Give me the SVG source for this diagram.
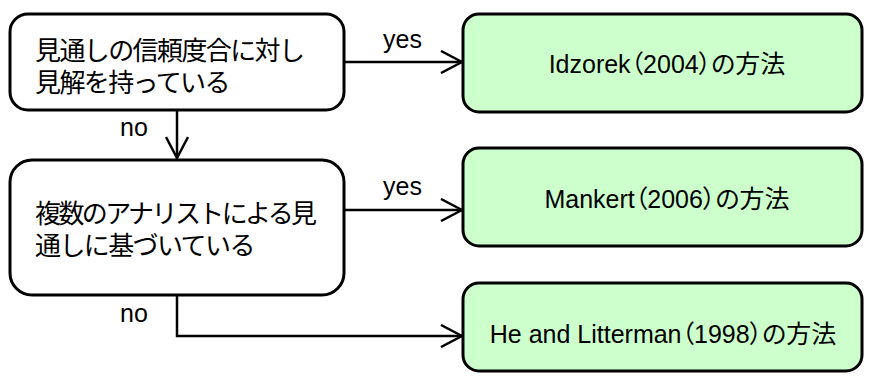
<svg xmlns="http://www.w3.org/2000/svg" width="872" height="376" viewBox="0 0 872 376">
<style>
.box{fill:#ffffff;stroke:#000;stroke-width:3}
.res{fill:#ccffcc;stroke:#000;stroke-width:3}
.t{font-family:"Liberation Sans","Noto Sans CJK JP",sans-serif;font-size:24px;fill:#000}
.j{font-size:26px;letter-spacing:-1.6px}
.j2{font-size:26px;letter-spacing:-2.6px}
.c{text-anchor:middle;font-size:25px;font-feature-settings:"palt" 1}
.ln{fill:none;stroke:#000;stroke-width:2.5}
</style>
<defs>
<marker id="arr" viewBox="0 0 24 24" refX="22" refY="12" markerWidth="24" markerHeight="24" markerUnits="userSpaceOnUse" orient="auto">
<path d="M1,1 L22,12 L1,23" fill="none" stroke="#000" stroke-width="2.5"/>
</marker>
</defs>
<rect width="872" height="376" fill="#fff"/>
<g id="connectors">
<line class="ln" x1="344" y1="62" x2="462" y2="62" marker-end="url(#arr)"/>
<line class="ln" x1="177" y1="110" x2="177" y2="158" marker-end="url(#arr)"/>
<line class="ln" x1="344" y1="210" x2="462" y2="210" marker-end="url(#arr)"/>
<polyline class="ln" points="177,295 177,336 462,336" marker-end="url(#arr)"/>
<text class="t" x="383" y="48" style="font-size:25px">yes</text>
<text class="t" x="120" y="136" style="font-size:25px">no</text>
<text class="t" x="383" y="195" style="font-size:25px">yes</text>
<text class="t" x="120" y="322" style="font-size:25px">no</text>
</g>
<g id="q1">
<rect class="box" x="10" y="14" width="334" height="96" rx="18"/>
<text class="t j" x="35" y="60">見通しの信頼度合に対し</text>
<text class="t j" x="35" y="92">見解を持っている</text>
</g>
<g id="q2">
<rect class="box" x="10" y="160" width="334" height="135" rx="22"/>
<text class="t j2" x="35" y="223">複数のアナリストによる見</text>
<text class="t j" x="35" y="255">通しに基づいている</text>
</g>
<g id="r1">
<rect class="res" x="463" y="14" width="399" height="98" rx="16"/>
<text class="t c" x="667" y="73">Idzorek（2004）の方法</text>
</g>
<g id="r2">
<rect class="res" x="463" y="148" width="399" height="98" rx="16"/>
<text class="t c" x="667" y="208">Mankert（2006）の方法</text>
</g>
<g id="r3">
<rect class="res" x="463" y="283" width="399" height="88" rx="16"/>
<text class="t c" x="663" y="343">He and Litterman（1998）の方法</text>
</g>
</svg>
